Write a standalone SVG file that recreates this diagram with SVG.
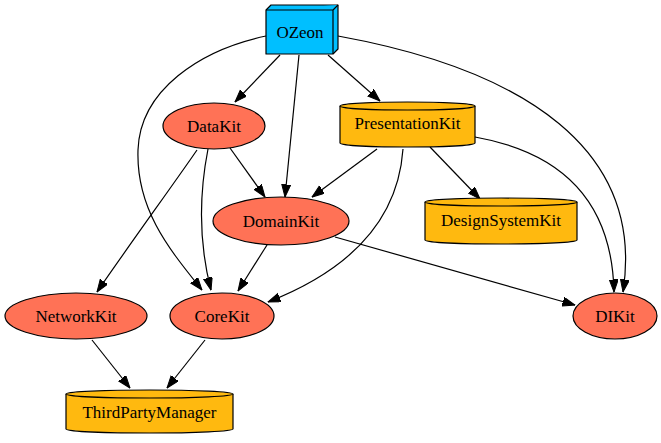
<svg xmlns="http://www.w3.org/2000/svg" width="661" height="443" viewBox="0 0 661 443">
<style>
text{font-family:'Liberation Serif','Times New Roman',serif;font-size:17px;fill:#000;text-anchor:middle}
.ell{fill:#FF7256;stroke:#000;stroke-width:1.2}
.cyl{fill:#FFB90F;stroke:#000;stroke-width:1.2}
.box{fill:#00BFFF;stroke:#000;stroke-width:1.2;stroke-linejoin:round}
.e{fill:none;stroke:#000;stroke-width:1.2;marker-end:url(#arr)}
</style>
<defs>
<marker id="arr" markerUnits="userSpaceOnUse" markerWidth="13" markerHeight="10" refX="12.5" refY="4.5" orient="auto">
<path d="M0,0 L12.5,4.5 L0,9 z" fill="#000" stroke="#000" stroke-width="1"/>
</marker>
</defs>
<rect width="661" height="443" fill="#fff"/>
<g id="edges">
<path class="e" d="M280,55 L235,102"/>
<path class="e" d="M299,55 L285,197"/>
<path class="e" d="M328,55 L380,101"/>
<path class="e" d="M266,36 C200,50 140,90 138,150 C136,210 170,250 202,290"/>
<path class="e" d="M338,36 C525,70 645,150 623,292"/>
<path class="e" d="M197,150 C180,175 120,258 97,292"/>
<path class="e" d="M208,149 C200,190 198,240 211,290"/>
<path class="e" d="M230,148 L265,197"/>
<path class="e" d="M377,149 L312,197"/>
<path class="e" d="M430,147 L480,199"/>
<path class="e" d="M403,149 C398,220 350,270 268,302"/>
<path class="e" d="M475,137 C560,152 612,200 614,292"/>
<path class="e" d="M267,245 L238,291"/>
<path class="e" d="M335,237 L575,305"/>
<path class="e" d="M92,340 L130,388"/>
<path class="e" d="M205,340 L167,388"/>
</g>
<g id="OZeon">
<path class="box" d="M266,10 L271,5 L338,5 L338,49 L333,54 L266,54 Z"/>
<path class="box" fill="none" d="M266,10 L333,10 L338,5 M333,10 L333,54"/>
<text x="300" y="38">OZeon</text>
</g>
<g id="DataKit">
<ellipse class="ell" cx="214" cy="126" rx="51" ry="23"/>
<text x="214" y="132">DataKit</text>
</g>
<g id="PresentationKit">
<path class="cyl" d="M340,106 A67.5,4 0 0 1 475,106 L475,143 A67.5,4 0 0 1 340,143 Z"/>
<path class="cyl" fill="none" d="M340,106 A67.5,4 0 0 0 475,106"/>
<text x="407.5" y="129">PresentationKit</text>
</g>
<g id="DomainKit">
<ellipse class="ell" cx="281" cy="221" rx="68" ry="24"/>
<text x="281" y="227">DomainKit</text>
</g>
<g id="DesignSystemKit">
<path class="cyl" d="M425,202 A76,4 0 0 1 577,202 L577,240 A76,4 0 0 1 425,240 Z"/>
<path class="cyl" fill="none" d="M425,202 A76,4 0 0 0 577,202"/>
<text x="501" y="226">DesignSystemKit</text>
</g>
<g id="NetworkKit">
<ellipse class="ell" cx="76" cy="316" rx="71" ry="23"/>
<text x="76" y="322">NetworkKit</text>
</g>
<g id="CoreKit">
<ellipse class="ell" cx="222" cy="316" rx="52" ry="23"/>
<text x="222" y="322">CoreKit</text>
</g>
<g id="DIKit">
<ellipse class="ell" cx="615" cy="316" rx="42" ry="23"/>
<text x="615" y="322">DIKit</text>
</g>
<g id="ThirdPartyManager">
<path class="cyl" d="M66,394 A83.5,4 0 0 1 233,394 L233,429 A83.5,4 0 0 1 66,429 Z"/>
<path class="cyl" fill="none" d="M66,394 A83.5,4 0 0 0 233,394"/>
<text x="149.5" y="418">ThirdPartyManager</text>
</g>
</svg>
